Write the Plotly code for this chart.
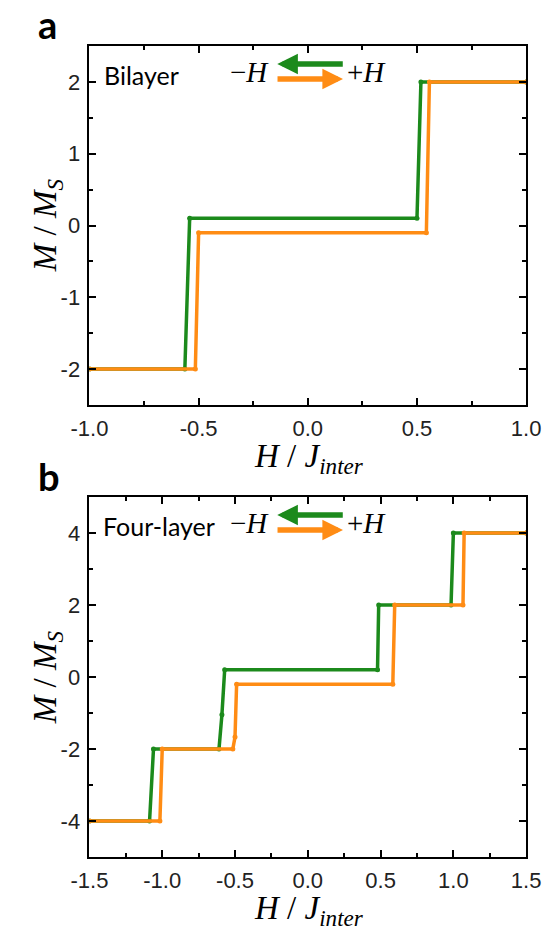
import plotly.graph_objects as go

# ---------------- data ----------------
# Bilayer: field sweep down (-H, green) and up (+H, orange), corner points of the loop
bi_down_h = [1.0, 0.518, 0.50, -0.541, -0.563, -1.0]
bi_down_m = [2.0, 2.0, 0.1, 0.1, -2.0, -2.0]
bi_up_h = [-1.0, -0.515, -0.50, 0.543, 0.557, 1.0]
bi_up_m = [-2.0, -2.0, -0.1, -0.1, 2.0, 2.0]

# Four-layer: same sweeps
four_down_h = [1.5, 1.0, 0.984, 0.487, 0.479, -0.571, -0.59, -0.61, -1.06, -1.087, -1.5]
four_down_m = [4.0, 4.0, 2.0, 2.0, 0.2, 0.2, -1.05, -2.0, -2.0, -4.0, -4.0]
four_up_h = [-1.5, -1.016, -1.0, -0.515, -0.50, -0.489, 0.584, 0.597, 1.066, 1.074, 1.5]
four_up_m = [-4.0, -4.0, -2.0, -2.0, -1.67, -0.2, -0.2, 2.0, 2.0, 4.0, 4.0]

# axis ticks
bi_xticks = [-1.0, -0.5, 0.0, 0.5, 1.0]
bi_xlabels = ["-1.0", "-0.5", "0.0", "0.5", "1.0"]
bi_yticks = [-2, -1, 0, 1, 2]
bi_ylabels = ["-2", "-1", "0", "1", "2"]
four_xticks = [-1.5, -1.0, -0.5, 0.0, 0.5, 1.0, 1.5]
four_xlabels = ["-1.5", "-1.0", "-0.5", "0.0", "0.5", "1.0", "1.5"]
four_yticks = [-4, -2, 0, 2, 4]
four_ylabels = ["-4", "-2", "0", "2", "4"]

GREEN = "#1c8a1c"
ORANGE = "#ff8c14"
W, H = 559, 932


def px(x):
    return x / W


def py(y):
    return 1 - y / H


fig = go.Figure()


def add_branch(h, m, color, xa, ya):
    fig.add_trace(go.Scatter(
        x=h, y=m, mode="lines+markers", xaxis=xa, yaxis=ya,
        line=dict(color=color, width=3.5),
        marker=dict(color=color, size=5),
        showlegend=False, hoverinfo="skip",
    ))


add_branch(bi_down_h, bi_down_m, GREEN, "x", "y")
add_branch(bi_up_h, bi_up_m, ORANGE, "x", "y")
add_branch(four_down_h, four_down_m, GREEN, "x2", "y2")
add_branch(four_up_h, four_up_m, ORANGE, "x2", "y2")

tick_font = dict(family="Liberation Sans, Arial, sans-serif", size=22, color="#222")


def axis(domain, rng, vals, labels, minor_step, anchor):
    return dict(
        domain=domain, range=rng, anchor=anchor,
        tickvals=vals, ticktext=labels,
        ticks="inside", ticklen=7, tickwidth=1.5, tickcolor="black",
        minor=dict(ticks="inside", ticklen=4, tickwidth=1.5, dtick=minor_step,
                   tickcolor="black", showgrid=False),
        showline=True, linewidth=1.8, linecolor="black", mirror="ticks",
        showgrid=False, zeroline=False, tickfont=tick_font, ticklabelstandoff=3,
    )


xdom = [px(75), px(540)]
fig.update_layout(
    width=W, height=H,
    margin=dict(l=0, r=0, t=0, b=0),
    paper_bgcolor="white", plot_bgcolor="white",
    xaxis=axis(xdom, [-1.0, 1.0], bi_xticks, bi_xlabels, 0.25, "y"),
    yaxis=axis([py(405), py(46)], [-2.5, 2.5], bi_yticks, bi_ylabels, 0.5, "x"),
    xaxis2=axis(xdom, [-1.5, 1.5], four_xticks, four_xlabels, 0.25, "y2"),
    yaxis2=axis([py(857), py(497)], [-5, 5], four_yticks, four_ylabels, 1, "x2"),
)

serif = dict(family="Liberation Serif, Times New Roman, serif", size=33, color="black")
sans_text = dict(family="Lato, Open Sans, sans-serif", size=25, color="black")
ann = []

# panel letters
for letter, y in (("a", 24), ("b", 476)):
    ann.append(dict(text=f"<b>{letter}</b>", x=px(18), y=py(y), xref="paper", yref="paper",
                    xanchor="left", yanchor="middle", showarrow=False,
                    font=dict(family="Lato, Open Sans, sans-serif", size=38, color="black")))

# axis titles
m_title = "<i>M</i> / <i>M<sub>S</sub></i>"
h_title = "<i>H</i> / <i>J<sub>inter</sub></i>"
for yc in (225, 677):
    ann.append(dict(text=m_title, x=px(30), y=py(yc),
                    xref="paper", yref="paper", xanchor="center", yanchor="middle",
                    textangle=-90, showarrow=False, font=serif))
for ytop in (436, 888):
    ann.append(dict(text=h_title, x=px(309), y=py(ytop),
                    xref="paper", yref="paper", xanchor="center", yanchor="top",
                    showarrow=False, font=serif))

# sample labels and sweep-direction keys
key_font = dict(serif, size=29)
for name, name_x, base in (("Bilayer", 88, 0), ("Four-layer", 87, 451)):
    ann.append(dict(text=name, x=px(name_x), y=py(75 + base), xref="paper", yref="paper",
                    xanchor="left", yanchor="middle", showarrow=False, font=sans_text))
    ann.append(dict(text="\u2212<i>H</i>", x=px(245), y=py(72 + base),
                    xref="paper", yref="paper", xanchor="center", yanchor="middle",
                    showarrow=False, font=key_font))
    ann.append(dict(text="+<i>H</i>", x=px(370), y=py(72 + base),
                    xref="paper", yref="paper", xanchor="center", yanchor="middle",
                    showarrow=False, font=key_font))
    # green arrow pointing left
    ann.append(dict(text="", x=px(275), y=py(64 + base), xref="paper", yref="paper",
                    ax=67, ay=0, showarrow=True, arrowhead=2, arrowsize=0.75,
                    arrowwidth=5.5, arrowcolor=GREEN))
    # orange arrow pointing right
    ann.append(dict(text="", x=px(345), y=py(79 + base), xref="paper", yref="paper",
                    ax=-67, ay=0, showarrow=True, arrowhead=2, arrowsize=0.75,
                    arrowwidth=5.5, arrowcolor=ORANGE))

fig.update_layout(annotations=ann)
fig.write_html("out.html")
